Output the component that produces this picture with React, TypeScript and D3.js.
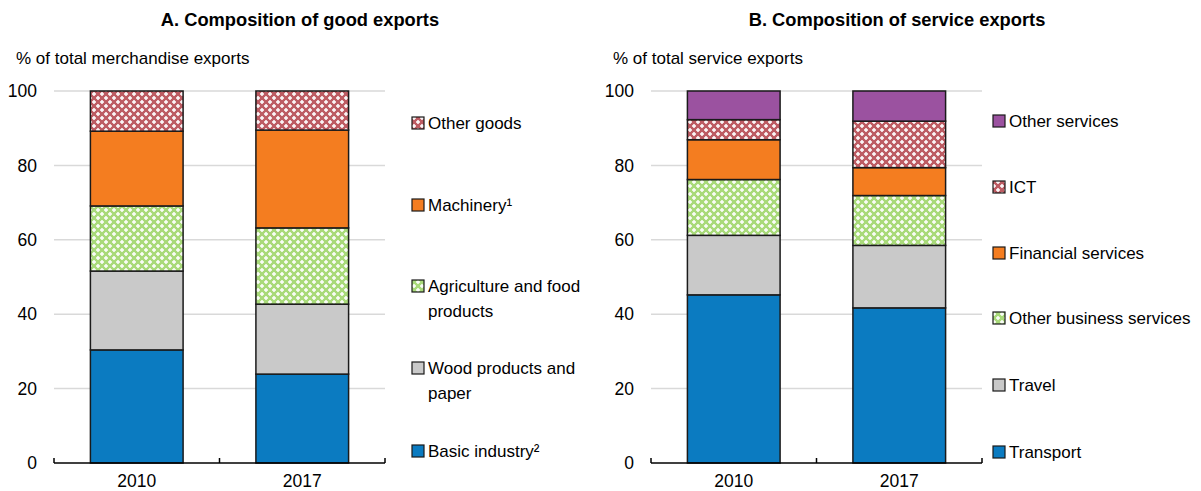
import * as d3 from "d3";

const years = ["2010", "2017"];

const goodsSeries = ["Basic industry²", "Wood products and paper", "Agriculture and food products", "Machinery¹", "Other goods"];
const goods2010 = [30.4, 21.2, 17.5, 20.1, 10.8];
const goods2017 = [23.9, 18.8, 20.5, 26.3, 10.5];

const serviceSeries = ["Transport", "Travel", "Other business services", "Financial services", "ICT", "Other services"];
const services2010 = [45.2, 16.0, 15.0, 10.7, 5.4, 7.7];
const services2017 = [41.7, 16.8, 13.4, 7.5, 12.5, 8.1];

const yTicks = [0, 20, 40, 60, 80, 100];

// legend text lines, bottom to top (same order as the series)
const goodsLegend = [["Basic industry²"], ["Wood products and", "paper"], ["Agriculture and food", "products"], ["Machinery¹"], ["Other goods"]];
const serviceLegend = [["Transport"], ["Travel"], ["Other business services"], ["Financial services"], ["ICT"], ["Other services"]];

const goodsFills = ["#0b7bc1", "#c9c9c9", "url(#patGreen)", "#f47d20", "url(#patRed)"];
const serviceFills = ["#0b7bc1", "#c9c9c9", "url(#patGreen)", "#f47d20", "url(#patRed)", "#9b52a0"];

const font = "'Liberation Sans', Arial, sans-serif";

type PanelProps = {
  x0: number;
  title: string;
  unit: string;
  series: string[];
  values: number[][];
  fills: string[];
  legend: string[][];
  legendY: number[];
  legendX: number;
};

function Panel({ x0, title, unit, series, values, fills, legend, legendY, legendX }: PanelProps) {
  const left = x0 + 54;
  const right = x0 + 385;
  const x = d3.scaleBand().domain(years).range([left, right]).paddingInner(0.44).paddingOuter(0.22);
  const y = d3.scaleLinear().domain([0, 100]).range([463, 91]);

  const rows = years.map((yr, i) => {
    const r: any = { year: yr };
    series.forEach((s, j) => (r[s] = values[i][j]));
    return r;
  });
  const stacked = d3.stack<any>().keys(series)(rows);

  return (
    <g>
      <text x={x0 + 300} y={26} textAnchor="middle" fontWeight="bold" fontSize={18.3}>
        {title}
      </text>
      <text x={x0 + 16} y={64} fontSize={17}>
        {unit}
      </text>
      {yTicks.map((t) => (
        <g key={t}>
          {t > 0 && <line x1={left} x2={right} y1={y(t)} y2={y(t)} stroke="#d9d9d9" strokeWidth={1.5} />}
          <text x={left - 17} y={y(t)} dy="0.35em" textAnchor="end" fontSize={17.5}>
            {t}
          </text>
        </g>
      ))}
      {stacked.map((layer, j) => (
        <g key={layer.key}>
          {layer.map((d, i) => (
            <rect
              key={i}
              x={x(years[i])}
              width={x.bandwidth()}
              y={y(d[1])}
              height={y(d[0]) - y(d[1])}
              fill={fills[j]}
              stroke="#1a1a1a"
              strokeWidth={1.5}
            />
          ))}
        </g>
      ))}
      <line x1={left} x2={right} y1={463} y2={463} stroke="#000" strokeWidth={1.5} />
      {[left, (left + right) / 2, right].map((tx, i) => (
        <line key={i} x1={tx} x2={tx} y1={458} y2={463} stroke="#000" strokeWidth={1.5} />
      ))}
      {years.map((yr) => (
        <text key={yr} x={(x(yr) as number) + x.bandwidth() / 2} y={487} textAnchor="middle" fontSize={17.5}>
          {yr}
        </text>
      ))}
      {legend.map((lines, j) => (
        <g key={j}>
          <rect x={legendX} y={legendY[j] - 6} width={12} height={12} fill={fills[j]} stroke="#1a1a1a" strokeWidth={1.2} />
          {lines.map((ln, k) => (
            <text key={k} x={legendX + 16} y={legendY[j] + k * 25} dy="0.35em" fontSize={17}>
              {ln}
            </text>
          ))}
        </g>
      ))}
    </g>
  );
}

function Pattern({ id, color }: { id: string; color: string }) {
  return (
    <pattern id={id} width={8} height={8} patternUnits="userSpaceOnUse">
      <rect width={8} height={8} fill={color} />
      <rect x={1.25} y={0} width={1.5} height={4} fill="#fff" />
      <rect x={0} y={1.25} width={4} height={1.5} fill="#fff" />
      <rect x={5.25} y={4} width={1.5} height={4} fill="#fff" />
      <rect x={4} y={5.25} width={4} height={1.5} fill="#fff" />
    </pattern>
  );
}

export default function App() {
  return (
    <svg width={1201} height={491} style={{ position: "absolute", left: 0, top: 0, fontFamily: font }}>
      <defs>
        <Pattern id="patRed" color="#bd5c63" />
        <Pattern id="patGreen" color="#a9da7a" />
      </defs>
      <rect width={1201} height={491} fill="#fff" />
      <Panel
        x0={0}
        title="A. Composition of good exports"
        unit="% of total merchandise exports"
        series={goodsSeries}
        values={[goods2010, goods2017]}
        fills={goodsFills}
        legend={goodsLegend}
        legendY={[451, 368, 286, 205, 123]}
        legendX={412}
      />
      <Panel
        x0={597}
        title="B. Composition of service exports"
        unit="% of total service exports"
        series={serviceSeries}
        values={[services2010, services2017]}
        fills={serviceFills}
        legend={serviceLegend}
        legendY={[452, 385, 318, 253, 187, 121]}
        legendX={993}
      />
    </svg>
  );
}
